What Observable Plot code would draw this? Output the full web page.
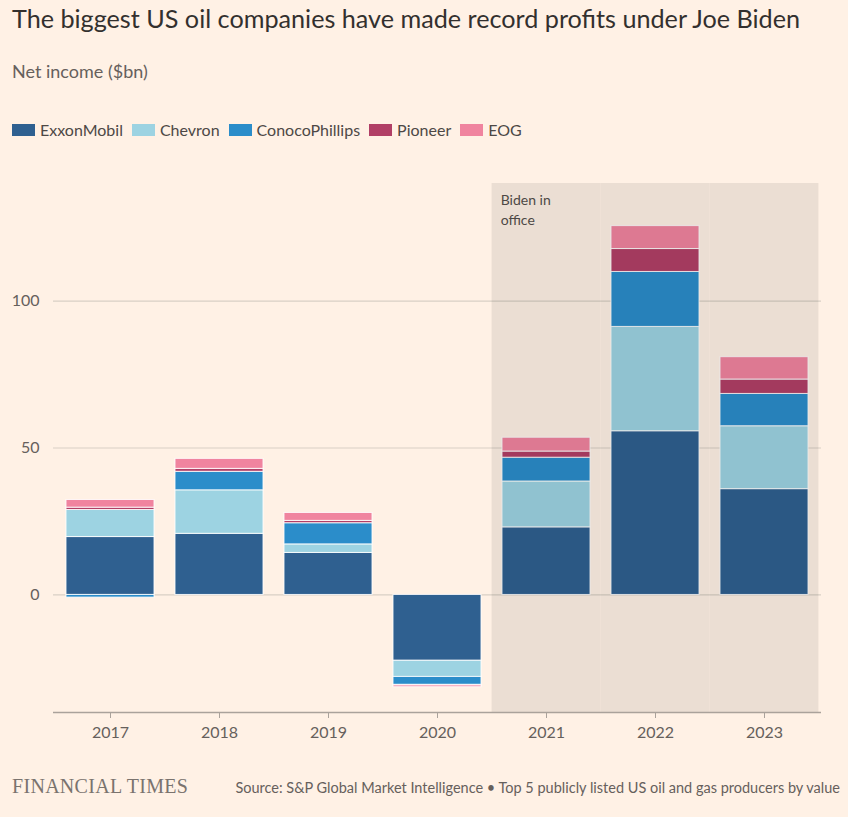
<!DOCTYPE html>
<html>
<head>
<meta charset="utf-8">
<script src="https://cdn.jsdelivr.net/npm/d3@7"></script>
<script src="https://cdn.jsdelivr.net/npm/@observablehq/plot@0.6"></script>
<style>
  html, body { margin: 0; padding: 0; background: #fff1e5; }
  body { width: 848px; height: 817px; position: relative; font-family: Lato, "Open Sans", sans-serif; color: #33302e; overflow: hidden; }
  #title { position: absolute; left: 12px; top: 3px; font-size: 25.2px; color: #33302e; white-space: nowrap; }
  #subtitle { position: absolute; left: 12px; top: 60px; font-size: 18px; color: #66605c; }
  #legend { position: absolute; left: 12px; top: 120px; display: flex; font-size: 16px; color: #4d4845; }
  #legend .item { display: flex; align-items: center; margin-right: 9px; }
  #legend .sw { width: 23px; height: 12px; margin-right: 5px; }
  #chart { position: absolute; left: 0; top: 160px; }
  #ft { position: absolute; left: 12px; top: 775px; font-family: "Liberation Serif", "DejaVu Serif", serif; font-size: 20px; color: #7a736e; letter-spacing: 0.3px; }
  #source { position: absolute; right: 8px; top: 779px; font-size: 14.5px; color: #66605c; white-space: nowrap; }
</style>
</head>
<body>
<div id="title">The biggest US oil companies have made record profits under Joe Biden</div>
<div id="subtitle">Net income ($bn)</div>
<div id="legend"></div>
<div id="chart"></div>
<div id="ft">FINANCIAL TIMES</div>
<div id="source">Source: S&amp;P Global Market Intelligence • Top 5 publicly listed US oil and gas producers by value</div>
<script>
const years = ["2017", "2018", "2019", "2020", "2021", "2022", "2023"];
const companies = ["ExxonMobil", "Chevron", "ConocoPhillips", "Pioneer", "EOG"];
const colors = ["#2f6090", "#9dd3e2", "#2b8dca", "#b13f66", "#f0849f"];
const exxon   = [19.7, 20.8, 14.3, -22.4, 23.0, 55.7, 36.0];
const chevron = [9.2, 14.8, 2.9, -5.5, 15.6, 35.5, 21.4];
const conoco  = [-0.9, 6.3, 7.2, -2.7, 8.1, 18.7, 11.0];
const pioneer = [0.8, 1.0, 0.8, -0.2, 2.1, 7.8, 4.9];
const eog     = [2.6, 3.4, 2.7, -0.6, 4.7, 7.8, 7.6];
const yTicks = [0, 50, 100];
const bidenYears = ["2021", "2022", "2023"];
const bidenLabel = "Biden in\noffice";

const series = [exxon, chevron, conoco, pioneer, eog];
const data = [];
companies.forEach((c, i) => years.forEach((y, j) => data.push({year: y, company: c, value: series[i][j]})));

// legend
const legend = document.getElementById("legend");
companies.forEach((c, i) => {
  const item = document.createElement("div");
  item.className = "item";
  item.innerHTML = `<span class="sw" style="background:${colors[i]}"></span><span>${c}</span>`;
  legend.appendChild(item);
});

const width = 848, marginLeft = 53, marginRight = 27;
const pInner = 0.19;
const step = (width - marginLeft - marginRight) / years.length;
const halfGap = pInner * step / 2;

const chart = Plot.plot({
  width,
  height: 592,
  marginLeft,
  marginRight,
  marginTop: 23,
  marginBottom: 40,
  style: {background: "transparent", fontFamily: "Lato, 'Open Sans', sans-serif", fontSize: "16px", color: "#66605c"},
  x: {domain: years, paddingInner: pInner, paddingOuter: pInner / 2, label: null},
  y: {domain: [-40, 140], label: null},
  color: {domain: companies, range: colors},
  marks: [
    Plot.gridY(yTicks, {stroke: "#d9cfc5", strokeOpacity: 1, strokeWidth: 1.2}),
    Plot.axisY(yTicks, {tickSize: 0, tickPadding: 14, label: null, fill: "#66605c", fontSize: 16}),
    Plot.barY(data, {x: "year", y: "value", fill: "company", stroke: "white", strokeWidth: 1, strokeOpacity: 0.85}),
    Plot.barY(bidenYears, {x: d => d, y1: -40, y2: 140, fill: "black", fillOpacity: 0.08, insetLeft: -halfGap, insetRight: -halfGap}),
    Plot.ruleY([-40], {stroke: "#aaa29b", strokeWidth: 1.5}),
    Plot.axisX({tickSize: 6, tickPadding: 8, stroke: "#aaa29b", fill: "#66605c", fontSize: 16, label: null}),
    Plot.text([bidenLabel], {x: () => bidenYears[0], y: 140, text: d => d, textAnchor: "start", lineAnchor: "top", dx: -step / 2 + 9, dy: 7, fontSize: 14, lineHeight: 1.45, fill: "#4d4845"})
  ]
});
document.getElementById("chart").appendChild(chart);
</script>
</body>
</html>
